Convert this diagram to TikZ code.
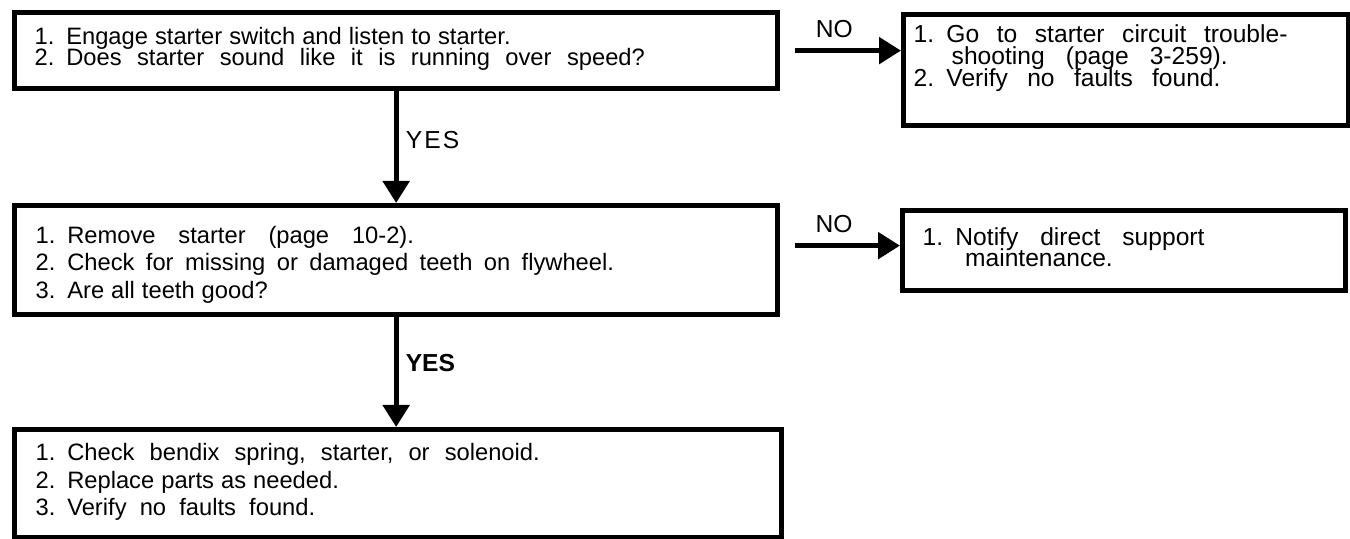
\documentclass[tikz,border=0pt]{standalone}
\usepackage{fontspec}
\setmainfont{Liberation Sans}
\usetikzlibrary{arrows.meta,calc}
\definecolor{inkblack}{RGB}{0,0,0}
\newcommand{\wordgap}[1]{\spaceskip=#1\relax}
\newcommand{\tightlines}{\lineskiplimit=-20pt\relax}

\begin{document}
\begin{tikzpicture}[
    >={Triangle[length=0.44cm, width=0.52cm]},
    box/.style={draw=inkblack, line width=3pt, align=left, anchor=north west, inner ysep=0pt, inner xsep=0.4cm},
    flow/.style={draw=inkblack, line width=3pt, ->},
    lbl/.style={text=inkblack, font=\fontsize{14}{14}\selectfont, inner sep=1pt}
]

% Canvas
\useasboundingbox (0,0) rectangle (27,10.78);

% 1. QUESTION BOXES (Left column)
\node[box, text width=14.46cm, text height=0.63cm, text depth=0.89cm, font={\fontsize{13.5}{12.3}\selectfont\tightlines}] (Q1) at (0.24,10.58) {
    \wordgap{4pt}1. Engage starter switch and listen to starter.\\
    \wordgap{8.8pt}2. Does starter sound like it is running over speed?
};

\node[box, inner xsep=0.42cm, text width=14.42cm, text height=0.76cm, text depth=1.42cm, font={\fontsize{13.5}{15.5}\selectfont}] (Q2) at (0.24,6.72) {
    \wordgap{13pt}1. Remove starter (page 10-2).\\
    \wordgap{6.5pt}2. Check for missing or damaged teeth on flywheel.\\
    \wordgap{4pt}3. Are all teeth good?
};

\node[box, inner xsep=0.42cm, text width=14.5cm, text height=0.62cm, text depth=1.54cm, font={\fontsize{13.5}{15.6}\selectfont}] (Q3) at (0.24,2.24) {
    \wordgap{8.6pt}1. Check bendix spring, starter, or solenoid.\\
    \wordgap{4pt}2. Replace parts as needed.\\
    \wordgap{7.5pt}3. Verify no faults found.
};

% 2. ANSWER BOXES (Right column)
\node[box, inner xsep=0.2cm, text width=8.5cm, text height=0.56cm, text depth=1.66cm, font={\fontsize{14}{12.4}\selectfont\tightlines}] (A1) at (18.02,10.54) {
    \wordgap{10pt}1. Go to starter circuit trouble-\\
    \wordgap{12pt}\phantom{1.}\hspace*{10pt}shooting (page 3-259).\\
    \wordgap{11pt}2. Verify no faults found.
};

\node[box, text width=8.06cm, text height=0.7cm, text depth=0.9cm, font={\fontsize{14}{11.6}\selectfont\tightlines}] (A2) at (18.0,6.62) {
    \wordgap{12.5pt}1. Notify direct support\\
    \phantom{1.}\hspace*{12.5pt}maintenance.
};

% 3. CONNECTIONS
% YES branches
\draw[flow] (Q1.south) -- (Q1.south |- Q2.north)
    node[lbl, pos=0.44, right=3pt] {Y\kern1.2pt E\kern1.2pt S};
\draw[flow] (Q2.south) -- (Q2.south |- Q3.north)
    node[lbl, pos=0.42, right=3pt, font={\fontsize{14}{14}\selectfont\bfseries}] {YES};

% NO branches
\draw[flow] ([xshift=0.3cm]Q1.east) -- (Q1.east -| A1.west)
    node[lbl, pos=0.37, above=5pt] {NO};
\draw[flow] ($(A2.west -| Q2.east)+(0.3,0.1)$) -- ([yshift=0.1cm]A2.west)
    node[lbl, pos=0.37, above=5pt] {NO};

\end{tikzpicture}
\end{document}
